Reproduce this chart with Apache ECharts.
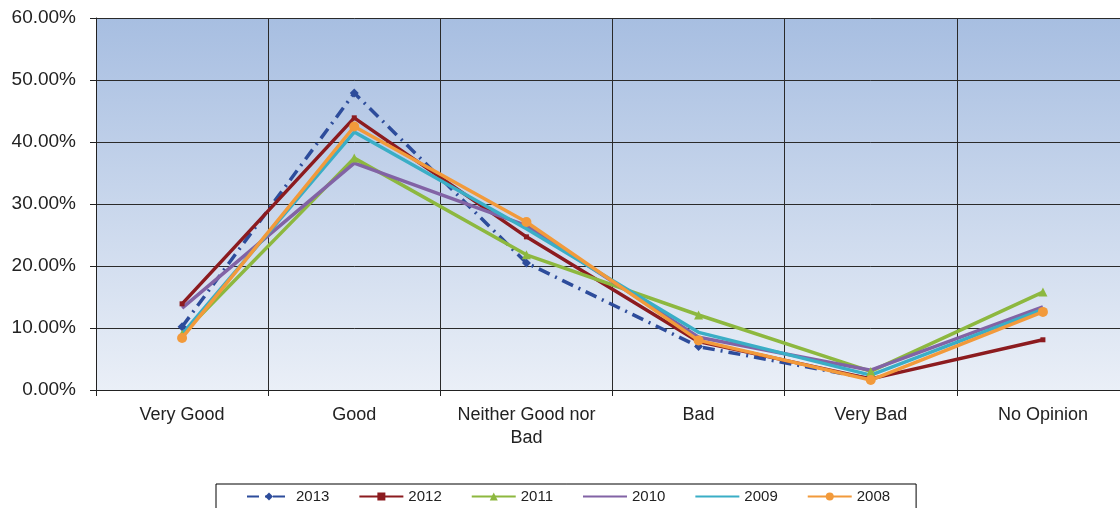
<!DOCTYPE html>
<html><head><meta charset="utf-8">
<script src="https://cdn.jsdelivr.net/npm/echarts@6/dist/echarts.min.js"></script>
<style>html,body{margin:0;padding:0;background:#fff;overflow:hidden;width:1120px;height:508px}#c{width:1130px;height:508px}</style>
</head><body><div id="c"></div>
<script>
const categories = ['Very Good', 'Good', 'Neither Good nor\nBad', 'Bad', 'Very Bad', 'No Opinion'];
const yTicks = [0, 10, 20, 30, 40, 50, 60];
const s2013 = [10.2, 47.9, 20.5, 7.0, 1.8, null];
const s2012 = [13.9, 43.9, 24.7, 7.8, 1.8, 8.1];
const s2011 = [9.0, 37.4, 21.8, 12.1, 3.0, 15.8];
const s2010 = [13.2, 36.6, 26.5, 8.5, 3.2, 13.4];
const s2009 = [9.0, 41.6, 26.0, 9.3, 2.4, 13.0];
const s2008 = [8.4, 42.5, 27.1, 8.0, 1.6, 12.6];

const chart = echarts.init(document.getElementById('c'));
function ser(name, data, color, symbol, size, lineType) {
  return {
    name, type: 'line', data, symbol, symbolSize: size, connectNulls: false,
    lineStyle: { color, width: 3.5, type: lineType || 'solid' },
    itemStyle: { color },
    emphasis: { disabled: true }
  };
}
chart.setOption({
  animation: false,
  textStyle: { fontFamily: 'Liberation Sans, Arial, sans-serif' },
  grid: {
    left: 96, right: 1, top: 18, bottom: 118, show: true, borderWidth: 0,
    backgroundColor: new echarts.graphic.LinearGradient(0, 0, 0, 1, [
      { offset: 0, color: '#a7bee1' },
      { offset: 1, color: '#eaeff7' }
    ])
  },
  xAxis: {
    type: 'category', data: categories, boundaryGap: true,
    axisLine: { lineStyle: { color: '#222', width: 1 } },
    axisTick: { show: true, length: 6, lineStyle: { color: '#222' } },
    splitLine: { show: true, lineStyle: { color: '#2a2a2a', width: 1 } },
    axisLabel: { color: '#222', fontSize: 18, margin: 14, lineHeight: 23, interval: 0 }
  },
  yAxis: {
    type: 'value', min: 0, max: 60, interval: 10,
    axisLine: { show: true, lineStyle: { color: '#222', width: 1 } },
    axisTick: { show: true, length: 6, lineStyle: { color: '#222' } },
    splitLine: { show: true, lineStyle: { color: '#2a2a2a', width: 1 } },
    axisLabel: { color: '#222', fontSize: 19, margin: 20, formatter: v => v.toFixed(2) + '%' }
  },
  legend: {
    left: 216, top: 484, width: 700,
    borderColor: '#000', borderWidth: 1, padding: [5, 26, 8, 30],
    itemWidth: 44, itemHeight: 10, itemGap: 29,
    textStyle: { color: '#222', fontSize: 15 },
    data: ['2013', '2012', '2011', '2010', '2009', '2008']
  },
  series: [
    ser('2013', s2013, '#2d4c9b', 'diamond', 9, [12, 6, 2, 6]),
    ser('2012', s2012, '#8c1b1f', 'rect', 5),
    ser('2011', s2011, '#8db83f', 'triangle', 9),
    ser('2010', s2010, '#8263a5', 'path://M0,0L10,10M10,0L0,10', 8),
    ser('2009', s2009, '#3aaec6', 'path://M0,0L10,10M10,0L0,10M5,0L5,10', 8),
    ser('2008', s2008, '#f29a3b', 'circle', 10)
  ]
});
</script></body></html>
